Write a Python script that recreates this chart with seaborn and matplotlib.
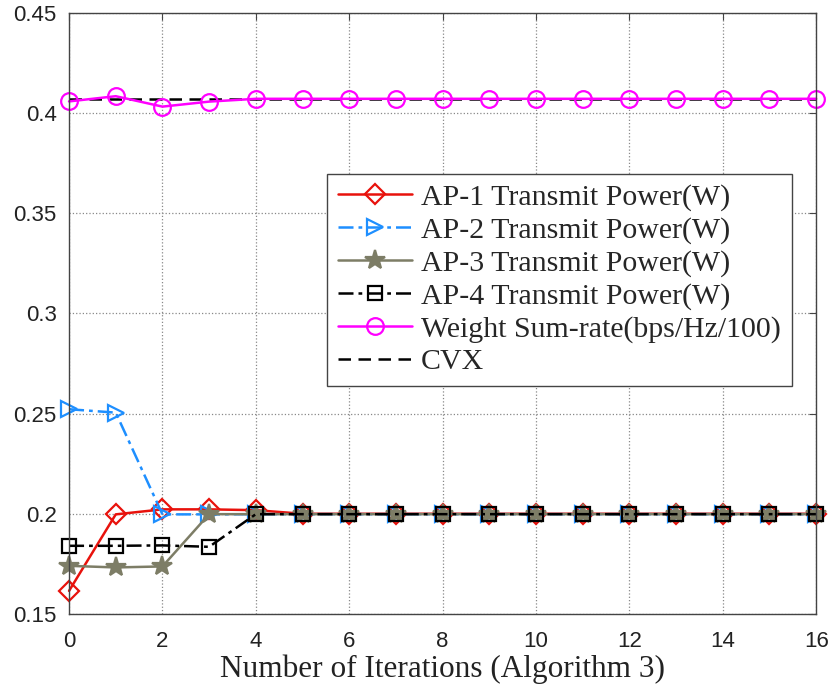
import numpy as np
import pandas as pd
import matplotlib
matplotlib.use("Agg")
import matplotlib.pyplot as plt
import seaborn as sns

iterations = list(range(17))
ap1 = [0.1615, 0.1997, 0.2022, 0.2022, 0.2018, 0.2, 0.2, 0.2, 0.2, 0.2, 0.2, 0.2, 0.2, 0.2, 0.2, 0.2, 0.2]
ap2 = [0.2522, 0.2505, 0.1997, 0.1997, 0.1998, 0.1998, 0.1998, 0.1998, 0.1998, 0.1998, 0.1998, 0.1998, 0.1998, 0.1998, 0.1998, 0.1998, 0.1998]
ap3 = [0.1740, 0.1732, 0.1737, 0.1998, 0.1998, 0.1998, 0.1998, 0.1998, 0.1998, 0.1998, 0.1998, 0.1998, 0.1998, 0.1998, 0.1998, 0.1998, 0.1998]
ap4 = [0.1840, 0.1840, 0.1842, 0.1835, 0.1998, 0.1998, 0.1998, 0.1998, 0.1998, 0.1998, 0.1998, 0.1998, 0.1998, 0.1998, 0.1998, 0.1998, 0.1998]
wsr = [0.4059, 0.4085, 0.4033, 0.4058, 0.4072, 0.4072, 0.4072, 0.4072, 0.4072, 0.4072, 0.4072, 0.4072, 0.4072, 0.4072, 0.4072, 0.4072, 0.4072]
cvx_value = 0.4073

labels = ["AP-1 Transmit Power(W)", "AP-2 Transmit Power(W)", "AP-3 Transmit Power(W)",
          "AP-4 Transmit Power(W)", "Weight Sum-rate(bps/Hz/100)", "CVX"]

sns.set_style("white")
plt.rcParams['font.family'] = ['Liberation Sans', 'DejaVu Sans']

fig = plt.figure(figsize=(8.32, 6.89), dpi=100)
ax = fig.add_axes([0.083, 0.109, 0.898, 0.872])

serif = ['Liberation Serif', 'DejaVu Serif']

styles = [
    (ap1, '#E8120C', '-', 'D', 10, labels[0]),
    (ap2, '#1E8FFF', (0, (6, 2, 1.5, 2)), '>', 12, labels[1]),
    (ap3, '#7D7D66', '-', '*', 15, labels[2]),
    (ap4, 'black', (0, (6, 2, 1.5, 2)), 's', 10, labels[3]),
    (wsr, '#FF00FF', '-', 'o', 12, labels[4]),
]

for vals, col, ls, mk, ms, lab in styles:
    df = pd.DataFrame({'x': iterations, 'y': vals})
    sns.lineplot(data=df, x='x', y='y', ax=ax, color=col, linestyle=ls, marker=mk,
                 markersize=ms, markerfacecolor='none' if mk != '*' else col,
                 markeredgecolor=col, markeredgewidth=1.6, linewidth=1.8, label=lab,
                 clip_on=False)

cvx_df = pd.DataFrame({'x': iterations, 'y': [cvx_value] * len(iterations)})
sns.lineplot(data=cvx_df, x='x', y='y', ax=ax, color='black', linestyle=(0, (5, 3)),
             linewidth=1.8, label=labels[5], zorder=1)

ax.set_xlim(0, 16)
ax.set_ylim(0.15, 0.45)
ax.set_xticks(range(0, 17, 2))
ax.set_yticks([0.15, 0.2, 0.25, 0.3, 0.35, 0.4, 0.45])
ax.set_yticklabels(['0.15', '0.2', '0.25', '0.3', '0.35', '0.4', '0.45'])
ax.tick_params(axis='both', labelsize=16, direction='in', length=5, color='#444444', width=0.8,
               top=True, right=True, labelcolor='#222222')
ax.tick_params(axis='x', pad=12)
ax.tick_params(axis='y', pad=9)
ax.grid(True, linestyle=':', color='#888888', linewidth=0.9)
for sp in ax.spines.values():
    sp.set_color('#444444')
    sp.set_linewidth(1.0)
ax.set_xlabel('Number of Iterations (Algorithm 3)', family=serif, size=22.5, color='#222222', labelpad=2)
ax.set_ylabel('')

leg = ax.legend(loc='upper right', bbox_to_anchor=(0.967, 0.733), prop={'family': serif, 'size': 21.5},
                frameon=True, fancybox=False, edgecolor='#444444', framealpha=1,
                handlelength=2.5, handletextpad=0.3, borderpad=0.35, labelspacing=0.19,
                borderaxespad=0)
leg.get_frame().set_linewidth(1.0)

fig.savefig('out.png', dpi=100)
